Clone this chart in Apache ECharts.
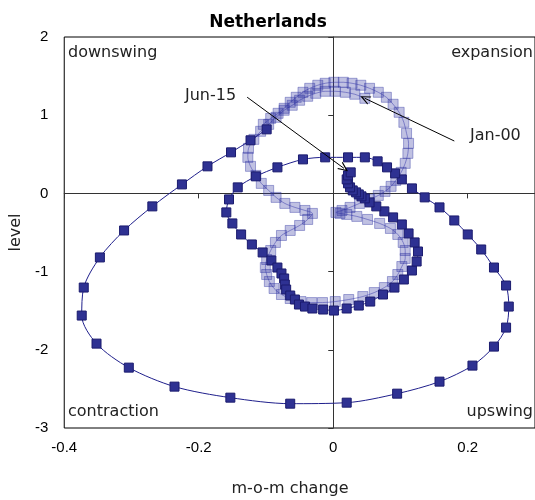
<!DOCTYPE html>
<html>
<head>
<meta charset="utf-8">
<script src="https://cdn.jsdelivr.net/npm/echarts@6/dist/echarts.min.js"></script>
<style>
  html, body { margin: 0; padding: 0; background: #fff; }
  #chart { width: 535px; height: 500px; }
</style>
</head>
<body>
<div id="chart"></div>
<script>
// ---- data: [m-o-m change, level] ----
// earlier period (Jan-00 onwards), faded
const historyPoints = [
  [0.047, 1.216], [0.032, 1.268], [0.018, 1.293], [0.003, 1.306], [-0.012, 1.306],
  [-0.026, 1.280], [-0.038, 1.242], [-0.050, 1.191], [-0.061, 1.127], [-0.073, 1.063],
  [-0.085, 0.973], [-0.096, 0.883], [-0.108, 0.794], [-0.118, 0.691], [-0.126, 0.576],
  [-0.127, 0.461], [-0.123, 0.346], [-0.115, 0.230], [-0.107, 0.128], [-0.096, 0.038],
  [-0.085, -0.051], [-0.072, -0.128], [-0.057, -0.179], [-0.042, -0.218], [-0.031, -0.256],
  [-0.038, -0.333], [-0.050, -0.410], [-0.064, -0.474], [-0.077, -0.538], [-0.086, -0.627],
  [-0.093, -0.730], [-0.099, -0.845], [-0.101, -0.948], [-0.099, -1.037], [-0.095, -1.127],
  [-0.088, -1.216], [-0.077, -1.293], [-0.064, -1.344], [-0.048, -1.383], [-0.032, -1.396],
  [-0.016, -1.396], [0.003, -1.383], [0.023, -1.357], [0.044, -1.319], [0.061, -1.268],
  [0.076, -1.204], [0.088, -1.127], [0.096, -1.037], [0.102, -0.935], [0.107, -0.832],
  [0.107, -0.730], [0.104, -0.627], [0.096, -0.525], [0.085, -0.448], [0.069, -0.384],
  [0.051, -0.333], [0.035, -0.294], [0.020, -0.269], [0.010, -0.256], [0.004, -0.243],
  [0.013, -0.218], [0.025, -0.179], [0.039, -0.128], [0.054, -0.077], [0.067, -0.026],
  [0.077, 0.026], [0.086, 0.090], [0.093, 0.166], [0.101, 0.269], [0.107, 0.384],
  [0.111, 0.512], [0.112, 0.640], [0.109, 0.768], [0.105, 0.909], [0.098, 1.037],
  [0.089, 1.140], [0.079, 1.229], [0.067, 1.293], [0.054, 1.344], [0.041, 1.383],
  [0.028, 1.408], [0.015, 1.421], [0.001, 1.421], [-0.012, 1.408], [-0.023, 1.383],
  [-0.035, 1.344], [-0.045, 1.293], [-0.055, 1.229], [-0.064, 1.165], [-0.073, 1.088],
  [-0.082, 1.024], [-0.093, 0.960], [-0.104, 0.883]
];
// recent period (up to Jun-15)
const recentPoints = [
  [-0.099, 0.819], [-0.123, 0.679], [-0.152, 0.525], [-0.187, 0.346], [-0.225, 0.115],
  [-0.269, -0.166], [-0.311, -0.474], [-0.347, -0.819], [-0.371, -1.204], [-0.374, -1.562],
  [-0.352, -1.921], [-0.304, -2.228], [-0.236, -2.471], [-0.153, -2.612], [-0.064, -2.689],
  [0.020, -2.676], [0.095, -2.561], [0.158, -2.407], [0.207, -2.202], [0.239, -1.959],
  [0.257, -1.716], [0.261, -1.447], [0.257, -1.178], [0.239, -0.948], [0.220, -0.717],
  [0.200, -0.525], [0.180, -0.346], [0.158, -0.179], [0.136, -0.051], [0.117, 0.064],
  [0.102, 0.179], [0.092, 0.256], [0.080, 0.333], [0.066, 0.410], [0.047, 0.461],
  [0.022, 0.461], [-0.012, 0.461], [-0.045, 0.435], [-0.083, 0.333], [-0.115, 0.218],
  [-0.142, 0.077], [-0.155, -0.077], [-0.159, -0.243], [-0.150, -0.384], [-0.137, -0.525],
  [-0.121, -0.653], [-0.105, -0.755], [-0.092, -0.858], [-0.083, -0.948], [-0.077, -1.024],
  [-0.073, -1.088], [-0.072, -1.165], [-0.070, -1.229], [-0.064, -1.306], [-0.057, -1.357],
  [-0.051, -1.421], [-0.042, -1.447], [-0.031, -1.472], [-0.015, -1.485], [0.001, -1.498],
  [0.020, -1.472], [0.038, -1.434], [0.055, -1.383], [0.074, -1.293], [0.091, -1.204],
  [0.105, -1.101], [0.117, -0.986], [0.124, -0.871], [0.126, -0.743], [0.121, -0.627],
  [0.112, -0.512], [0.102, -0.397], [0.089, -0.307], [0.076, -0.230], [0.064, -0.166],
  [0.054, -0.115], [0.047, -0.064], [0.042, -0.038], [0.038, -0.013], [0.034, 0.013],
  [0.029, 0.038], [0.025, 0.077], [0.022, 0.128], [0.020, 0.179], [0.022, 0.230],
  [0.026, 0.269]
];
// annotation arrows: [label, from, to]
const annotations = [
  { label: 'Jun-15', from: [-0.128, 1.23], to: [0.016, 0.32] },
  { label: 'Jan-00', from: [0.180, 0.67], to: [0.047, 1.216] }
];
const xTicks = { min: -0.4, max: 0.3, step: 0.2 };
const yTicks = { min: -3, max: 2, step: 1 };
const quadrantLabels = ['downswing', 'expansion', 'contraction', 'upswing'];
const titleText = 'Netherlands';
const xName = 'm-o-m change';
const yName = 'level';

const chart = echarts.init(document.getElementById('chart'), null, { renderer: 'canvas' });
const gothic = 'DejaVu Sans';
const arial = 'Liberation Sans';
const chevron = 'path://M5,0 L10,10 L8.6,10 L5,2.8 L1.4,10 L0,10 Z';

const option = {
  animation: false,
  backgroundColor: '#fff',
  title: {
    text: titleText,
    left: 263, top: 9, textAlign: 'center',
    textStyle: { fontFamily: gothic, fontWeight: 'bold', fontSize: 17, color: '#000' }
  },
  grid: {
    left: 62, top: 37, width: 480, height: 391,
    show: true, borderColor: '#000', borderWidth: 1, backgroundColor: 'transparent'
  },
  xAxis: [
    {
      type: 'value', min: xTicks.min, max: xTicks.max, interval: xTicks.step,
      position: 'bottom',
      axisLine: { show: false, onZero: false },
      axisTick: { show: false },
      splitLine: { show: false },
      axisLabel: { show: true, showMaxLabel: false, margin: 12, color: '#000', fontFamily: arial, fontSize: 15 }
    },
    {
      type: 'value', min: xTicks.min, max: xTicks.max, interval: xTicks.step,
      position: 'bottom',
      axisLine: { show: true, onZero: true, onZeroAxisIndex: 0, lineStyle: { color: '#333', width: 1 } },
      axisTick: { show: true, length: 5, lineStyle: { color: '#333' } },
      splitLine: { show: false },
      axisLabel: { show: false }
    }
  ],
  yAxis: [
    {
      type: 'value', min: yTicks.min, max: yTicks.max, interval: yTicks.step,
      position: 'left',
      name: yName, nameLocation: 'middle', nameGap: 34, nameRotate: 90,
      nameTextStyle: { fontFamily: gothic, fontSize: 16, color: '#222' },
      axisLine: { show: false, onZero: false },
      axisTick: { show: false },
      splitLine: { show: false },
      axisLabel: { show: true, margin: 16, color: '#000', fontFamily: arial, fontSize: 15 }
    },
    {
      type: 'value', min: yTicks.min, max: yTicks.max, interval: yTicks.step,
      position: 'left',
      axisLine: { show: true, onZero: true, onZeroAxisIndex: 0, lineStyle: { color: '#333', width: 1 } },
      axisTick: { show: true, length: 5, lineStyle: { color: '#333' } },
      splitLine: { show: false },
      axisLabel: { show: false }
    }
  ],
  graphic: [
    { type: 'text', left: 68, top: 45, style: { text: quadrantLabels[0], font: '16px "' + gothic + '"', fill: '#222' } },
    { type: 'text', right: 2, top: 45, style: { text: quadrantLabels[1], font: '16px "' + gothic + '"', fill: '#222' } },
    { type: 'text', left: 68, top: 404, style: { text: quadrantLabels[2], font: '16px "' + gothic + '"', fill: '#222' } },
    { type: 'text', right: 2, top: 404, style: { text: quadrantLabels[3], font: '16px "' + gothic + '"', fill: '#222' } },
    { type: 'text', left: 185, top: 88, style: { text: annotations[0].label, font: '16px "' + gothic + '"', fill: '#222' } },
    { type: 'text', left: 470, top: 128, style: { text: annotations[1].label, font: '16px "' + gothic + '"', fill: '#222' } },
    { type: 'text', x: 290, y: 489, style: { text: xName, font: '16px "' + gothic + '"', fill: '#222', textAlign: 'center', textVerticalAlign: 'middle' } }
  ],
  series: [
    {
      name: 'earlier',
      type: 'line',
      xAxisIndex: 0, yAxisIndex: 0,
      data: historyPoints,
      smooth: 0.3,
      symbol: 'rect', symbolSize: 10, showAllSymbol: true,
      lineStyle: { color: 'rgba(60,60,175,0.5)', width: 1 },
      itemStyle: { color: 'rgba(46,49,160,0.3)', borderColor: 'rgba(46,49,160,0.4)', borderWidth: 1 },
      z: 3
    },
    {
      name: 'recent',
      type: 'line',
      xAxisIndex: 0, yAxisIndex: 0,
      data: recentPoints,
      smooth: 0.3,
      symbol: 'rect', symbolSize: 9, showAllSymbol: true,
      lineStyle: { color: '#1f1f8c', width: 1 },
      itemStyle: { color: '#2e3192', borderColor: '#1b1b6e', borderWidth: 1 },
      z: 4,
      markLine: {
        silent: true,
        symbol: ['none', chevron],
        symbolSize: [9, 10],
        label: { show: false },
        lineStyle: { color: '#000', width: 1, type: 'solid' },
        data: annotations.map(a => [{ coord: a.from }, { coord: a.to }])
      }
    }
  ]
};
chart.setOption(option);
</script>
</body>
</html>
